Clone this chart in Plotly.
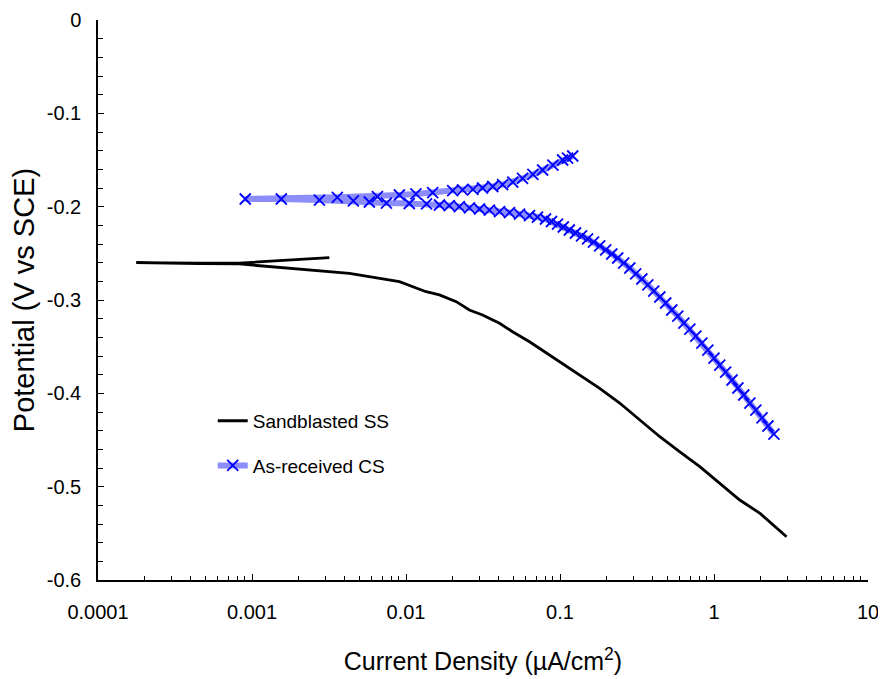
import plotly.graph_objects as go

# ---- data ----
# Sandblasted SS: cathodic branch (high current -> Ecorr) then anodic branch
ss_current = [2.96, 1.99, 1.47, 1.09, 0.809, 0.600, 0.445, 0.330, 0.244, 0.181,
              0.134, 0.110, 0.0855, 0.0634, 0.0492, 0.0405, 0.0314, 0.0258, 0.0212,
              0.0165, 0.0135, 0.0111, 0.00906, 0.00429, 0.00274, 0.00129, 0.000826,
              0.000454, 0.000177, 0.000454, 0.000826, 0.00194, 0.00318]
ss_potential = [-0.5536, -0.5286, -0.5143, -0.4964, -0.4786, -0.4626, -0.4465, -0.4286,
                -0.4104, -0.3947, -0.3804, -0.3715, -0.3589, -0.3447, -0.3340, -0.3250,
                -0.3161, -0.3107, -0.3018, -0.2946, -0.2911, -0.2858, -0.2804, -0.2714,
                -0.2686, -0.2643, -0.2614, -0.2609, -0.2600, -0.2605, -0.2604, -0.2572,
                -0.2547]

# As-received CS: cathodic branch (high current -> Ecorr)
cs_cath_current = [2.45, 2.24, 2.05, 1.87, 1.71, 1.56, 1.43, 1.31, 1.19, 1.09, 1.00,
                   0.912, 0.834, 0.762, 0.697, 0.637, 0.582, 0.532, 0.486, 0.445, 0.406,
                   0.372, 0.340, 0.310, 0.284, 0.259, 0.237, 0.217, 0.198, 0.181, 0.165,
                   0.151, 0.138, 0.126, 0.115, 0.105, 0.0964, 0.0881, 0.0805, 0.0714,
                   0.0634, 0.0546, 0.0470, 0.0405, 0.0348, 0.0300, 0.0258, 0.0222,
                   0.0191, 0.0165, 0.0136, 0.0105, 0.00746, 0.00578, 0.00455, 0.00274,
                   0.00155, 0.000904]
cs_cath_potential = [-0.4436, -0.4350, -0.4264, -0.4179, -0.4104, -0.4018, -0.3943,
                     -0.3857, -0.3772, -0.3697, -0.3622, -0.3536, -0.3461, -0.3386,
                     -0.3311, -0.3247, -0.3172, -0.3107, -0.3032, -0.2968, -0.2904,
                     -0.2839, -0.2775, -0.2721, -0.2657, -0.2604, -0.2550, -0.2507,
                     -0.2464, -0.2421, -0.2379, -0.2346, -0.2314, -0.2282, -0.2250,
                     -0.2218, -0.2186, -0.2159, -0.2132, -0.2111, -0.2095, -0.2079,
                     -0.2063, -0.2052, -0.2036, -0.2025, -0.2014, -0.2000, -0.1988,
                     -0.1982, -0.1971, -0.1966, -0.1961, -0.1950, -0.1939, -0.1929,
                     -0.1918, -0.1918]
# As-received CS: anodic branch (Ecorr -> high current)
cs_anod_current = [0.00358, 0.00652, 0.00906, 0.0116, 0.0149, 0.0201, 0.0233, 0.0272,
                   0.0314, 0.0366, 0.0424, 0.0494, 0.0571, 0.0667, 0.0771, 0.0900,
                   0.104, 0.112, 0.121]
cs_anod_potential = [-0.1900, -0.1893, -0.1875, -0.1864, -0.1850, -0.1829, -0.1821,
                     -0.1814, -0.1800, -0.1784, -0.1763, -0.1736, -0.1698, -0.1655,
                     -0.1607, -0.1554, -0.1500, -0.1479, -0.1457]

x_tick_vals = [0.0001, 0.001, 0.01, 0.1, 1, 10]
x_tick_text = ["0.0001", "0.001", "0.01", "0.1", "1", "10"]
y_tick_vals = [0, -0.1, -0.2, -0.3, -0.4, -0.5, -0.6]
y_tick_text = ["0", "-0.1", "-0.2", "-0.3", "-0.4", "-0.5", "-0.6"]

cs_current = cs_cath_current + cs_anod_current
cs_potential = cs_cath_potential + cs_anod_potential

FONT = "Arial, 'Liberation Sans', sans-serif"

fig = go.Figure()
fig.add_trace(go.Scatter(
    x=ss_current, y=ss_potential, mode="lines", name="Sandblasted SS",
    line=dict(color="black", width=2.8), legendgroup="a"))
fig.add_trace(go.Scatter(
    x=cs_current, y=cs_potential, mode="lines+markers", name="As-received CS",
    line=dict(color="rgb(140,140,250)", width=6),
    marker=dict(symbol="x-thin", size=11, color="blue",
                line=dict(color="blue", width=1.8)),
    legendgroup="b"))

minor_x = [k * 10.0 ** e for e in range(-4, 1) for k in range(2, 10)]

# the page body has an 8px default margin, margins below compensate for it
fig.update_layout(
    width=878, height=671,
    margin=dict(l=90, r=18, t=12, b=99),
    paper_bgcolor="white", plot_bgcolor="white",
    font=dict(family=FONT, size=20, color="black"),
    showlegend=True,
    legend=dict(x=0.149, y=0.318, xanchor="left", yanchor="top",
                bgcolor="rgba(0,0,0,0)", font=dict(size=19),
                tracegroupgap=17),
    xaxis=dict(
        type="log", range=[-4, 1], automargin=False,
        tickvals=x_tick_vals, ticktext=x_tick_text,
        ticks="inside", ticklen=6, tickwidth=1.2, tickcolor="black",
        showline=True, linecolor="black", linewidth=1.5,
        showgrid=False, zeroline=False,
        ticklabelstandoff=13,
        tickfont=dict(size=20),
        minor=dict(tickvals=minor_x, ticks="inside", ticklen=4,
                   tickwidth=1, tickcolor="black", showgrid=False),
        title=dict(text="Current Density (µA/cm<sup>2</sup>)",
                   font=dict(size=25), standoff=31),
    ),
    yaxis=dict(
        range=[-0.6, 0], automargin=False,
        tickvals=y_tick_vals, ticktext=y_tick_text,
        ticks="inside", ticklen=6, tickwidth=1.2, tickcolor="black",
        showline=True, linecolor="black", linewidth=1.5,
        showgrid=False, zeroline=False,
        ticklabelstandoff=11,
        tickfont=dict(size=20),
        minor=dict(dtick=0.02, ticks="inside", ticklen=5,
                   tickwidth=1, tickcolor="black", showgrid=False),
        title=dict(text="Potential (V vs SCE)", font=dict(size=29),
                   standoff=5),
    ),
)

fig.write_html("out.html")
